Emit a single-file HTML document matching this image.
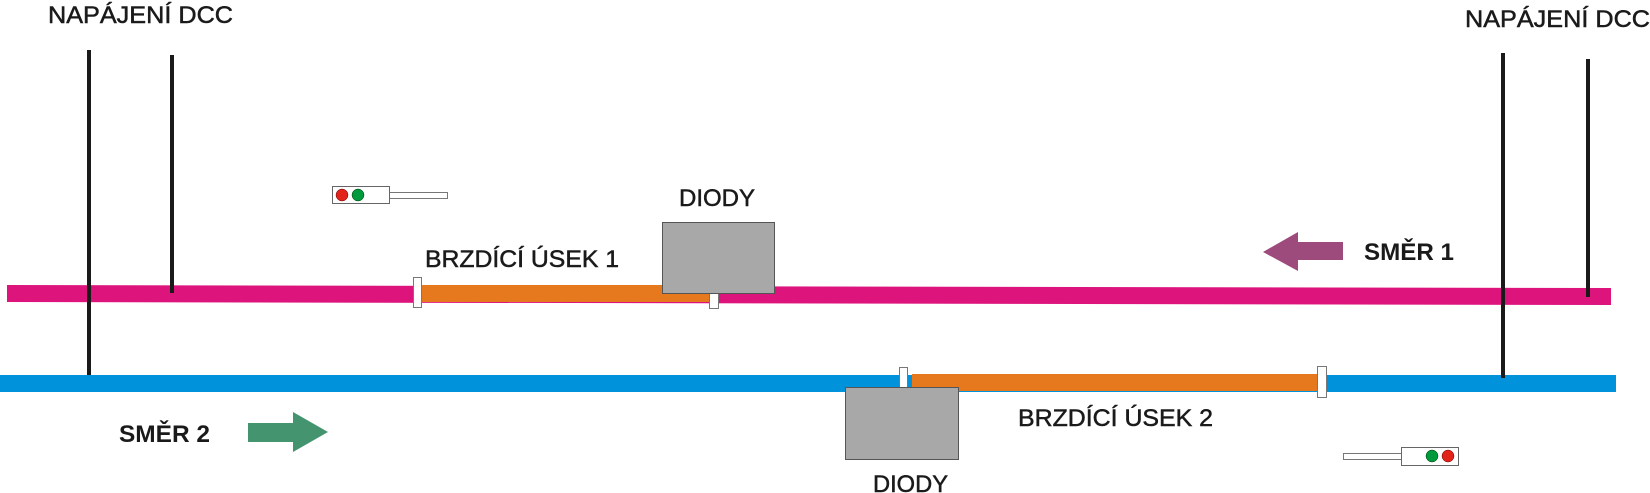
<!DOCTYPE html>
<html><head><meta charset="utf-8"><style>html,body{margin:0;padding:0;background:#fff}svg{display:block}</style></head>
<body>
<svg width="1650" height="493" viewBox="0 0 1650 493" xmlns="http://www.w3.org/2000/svg" font-family="Liberation Sans, Arial, sans-serif" font-size="24" fill="#1a1a1a">
<!-- tracks -->
<polygon points="7,285 1611,288 1611,305 7,302" fill="#dc147c"/>
<rect x="421" y="285" width="290" height="17" fill="#e6791e"/>
<rect x="0" y="375" width="1616" height="17" fill="#0092db"/>
<rect x="912" y="374" width="405" height="17" fill="#e6791e"/>
<!-- insulators -->
<rect x="413.5" y="277.5" width="8" height="30" fill="#fff" stroke="#777" stroke-width="1"/>
<rect x="709.5" y="293.5" width="9" height="15" fill="#fff" stroke="#777" stroke-width="1"/>
<rect x="899.5" y="367.5" width="8" height="23" fill="#fff" stroke="#777" stroke-width="1"/>
<rect x="1317.5" y="366.5" width="9" height="31" fill="#fff" stroke="#777" stroke-width="1"/>
<!-- feeders -->
<rect x="87" y="50" width="4" height="325" fill="#1a1a1a"/>
<rect x="170" y="55" width="4" height="238" fill="#1a1a1a"/>
<rect x="1501" y="53" width="4" height="325" fill="#1a1a1a"/>
<rect x="1586" y="59" width="4" height="238" fill="#1a1a1a"/>
<!-- diode boxes -->
<rect x="662.5" y="222.5" width="112" height="71" fill="#a8a8a8" stroke="#555" stroke-width="1"/>
<rect x="845.5" y="387.5" width="113" height="72" fill="#a8a8a8" stroke="#555" stroke-width="1"/>
<!-- signals -->
<rect x="389.5" y="192.5" width="58" height="6" fill="#fff" stroke="#777"/>
<rect x="332.5" y="186.5" width="57" height="17" fill="#fff" stroke="#666"/>
<circle cx="342" cy="195" r="6" fill="#e2231a" stroke="#600" stroke-width="0.5"/>
<circle cx="358" cy="195" r="6" fill="#009a3e" stroke="#030" stroke-width="0.5"/>
<rect x="1343.5" y="453.5" width="58" height="6" fill="#fff" stroke="#777"/>
<rect x="1401.5" y="447.5" width="57" height="18" fill="#fff" stroke="#666"/>
<circle cx="1432" cy="456" r="6" fill="#009a3e" stroke="#030" stroke-width="0.5"/>
<circle cx="1448" cy="456" r="6" fill="#e2231a" stroke="#600" stroke-width="0.5"/>
<!-- arrows -->
<polygon points="1263,252 1298,232 1298,242 1343,242 1343,260 1298,260 1298,271" fill="#9c4b7c"/>
<polygon points="328,432 293,412 293,423 248,423 248,442 293,442 293,452" fill="#459470"/>
<!-- labels -->
<g stroke="#1a1a1a" stroke-width="0.5">
<text x="48" y="23" textLength="185" lengthAdjust="spacingAndGlyphs">NAPÁJENÍ DCC</text>
<text x="1465" y="27" textLength="185" lengthAdjust="spacingAndGlyphs">NAPÁJENÍ DCC</text>
<text x="679" y="206" textLength="76" lengthAdjust="spacingAndGlyphs">DIODY</text>
<text x="425" y="267" textLength="194" lengthAdjust="spacingAndGlyphs">BRZDÍCÍ ÚSEK 1</text>
<text x="1018" y="426" textLength="195" lengthAdjust="spacingAndGlyphs">BRZDÍCÍ ÚSEK 2</text>
<text x="873" y="492" textLength="75" lengthAdjust="spacingAndGlyphs">DIODY</text>
</g>
<text x="1364" y="260" textLength="90" lengthAdjust="spacingAndGlyphs" font-weight="bold">SMĚR 1</text>
<text x="119" y="442" textLength="91" lengthAdjust="spacingAndGlyphs" font-weight="bold">SMĚR 2</text>
</svg>
</body></html>
